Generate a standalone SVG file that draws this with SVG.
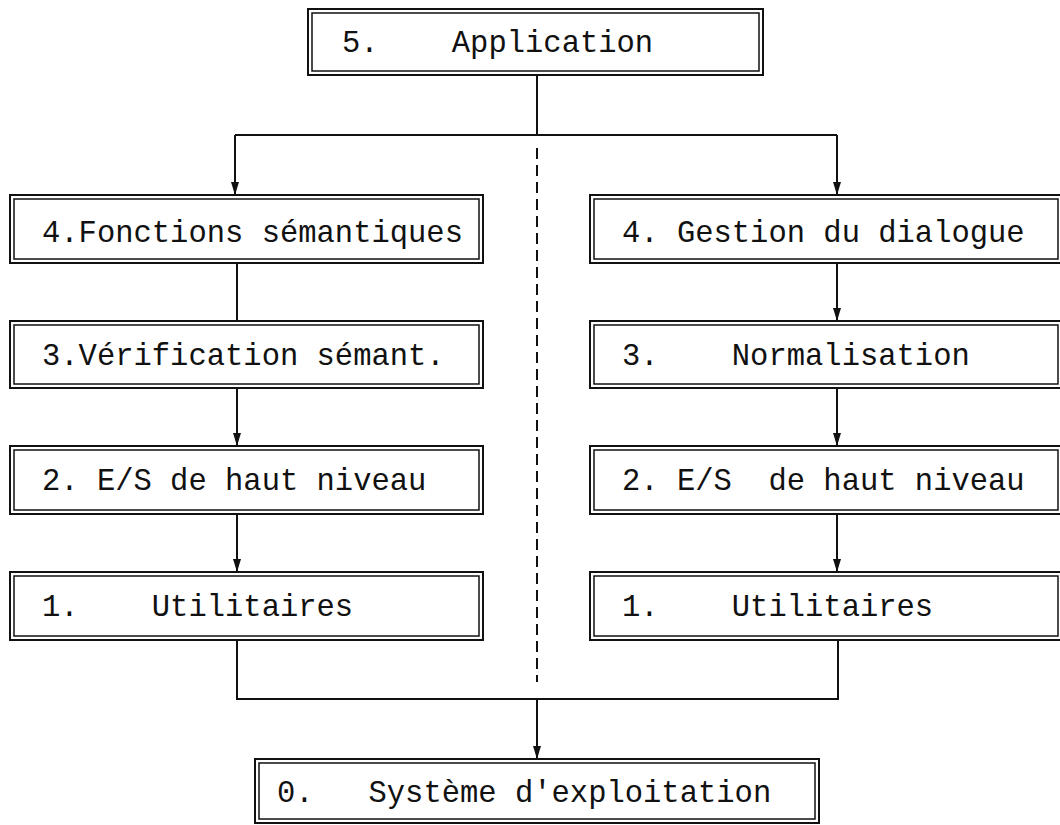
<svg xmlns="http://www.w3.org/2000/svg" width="1060" height="825" viewBox="0 0 1060 825">
<style>
.o{fill:none;stroke:#111;stroke-width:2}
.i{fill:none;stroke:#111;stroke-width:1.5}
.t{font-family:"Liberation Mono","Courier New",monospace;font-size:30.5px;fill:#111;white-space:pre}
.c{fill:none;stroke:#111;stroke-width:2}
.d{fill:none;stroke:#111;stroke-width:2;stroke-dasharray:11 6}
</style>
<defs>
<marker id="ah" markerUnits="userSpaceOnUse" markerWidth="13" markerHeight="8" refX="13" refY="4" orient="auto" viewBox="0 0 13 8">
<path d="M0,0 L13,4 L0,8 Z" fill="#111"/>
</marker>
</defs>
<rect width="1060" height="825" fill="#fff"/>
<g id="connectors">
<path class="c" d="M537,75 V135 M235,135 H837"/>
<path class="c" d="M235,135 V195" marker-end="url(#ah)"/>
<path class="c" d="M837,135 V195" marker-end="url(#ah)"/>
<path class="d" d="M537,148 V682"/>
<path class="c" d="M237,263 V321"/>
<path class="c" d="M237,388 V446" marker-end="url(#ah)"/>
<path class="c" d="M237,514 V572" marker-end="url(#ah)"/>
<path class="c" d="M837,263 V321" marker-end="url(#ah)"/>
<path class="c" d="M837,388 V446" marker-end="url(#ah)"/>
<path class="c" d="M837,514 V572" marker-end="url(#ah)"/>
<path class="c" d="M237,640 V699 H838 V640"/>
<path class="c" d="M537,699 V759" marker-end="url(#ah)"/>
</g>
<g id="n5">
<rect class="o" x="308" y="9" width="455" height="66"/>
<rect class="i" x="312" y="13" width="447" height="58"/>
<text class="t" x="342" y="52">5.    Application</text>
</g>
<g id="n4l">
<rect class="o" x="10" y="195" width="473" height="68"/>
<rect class="i" x="14" y="199" width="465" height="60"/>
<text class="t" x="42" y="242">4.Fonctions sémantiques</text>
</g>
<g id="n3l">
<rect class="o" x="10" y="321" width="473" height="67"/>
<rect class="i" x="14" y="325" width="465" height="59"/>
<text class="t" x="42" y="365">3.Vérification sémant.</text>
</g>
<g id="n2l">
<rect class="o" x="10" y="446" width="473" height="68"/>
<rect class="i" x="14" y="450" width="465" height="60"/>
<text class="t" x="42" y="490">2. E/S de haut niveau</text>
</g>
<g id="n1l">
<rect class="o" x="10" y="572" width="473" height="68"/>
<rect class="i" x="14" y="576" width="465" height="60"/>
<text class="t" x="42" y="616">1.    Utilitaires</text>
</g>
<g id="n4r">
<rect class="o" x="590" y="195" width="473" height="68"/>
<rect class="i" x="594" y="199" width="464" height="60"/>
<text class="t" x="622" y="242">4. Gestion du dialogue</text>
</g>
<g id="n3r">
<rect class="o" x="590" y="321" width="473" height="67"/>
<rect class="i" x="594" y="325" width="464" height="59"/>
<text class="t" x="622" y="365">3.    Normalisation</text>
</g>
<g id="n2r">
<rect class="o" x="590" y="446" width="473" height="68"/>
<rect class="i" x="594" y="450" width="464" height="60"/>
<text class="t" x="622" y="490">2. E/S  de haut niveau</text>
</g>
<g id="n1r">
<rect class="o" x="590" y="572" width="473" height="68"/>
<rect class="i" x="594" y="576" width="464" height="60"/>
<text class="t" x="622" y="616">1.    Utilitaires</text>
</g>
<g id="n0">
<rect class="o" x="255" y="759" width="564" height="64"/>
<rect class="i" x="259" y="763" width="556" height="56"/>
<text class="t" x="277" y="802">0.   Système d'exploitation</text>
</g>
</svg>
